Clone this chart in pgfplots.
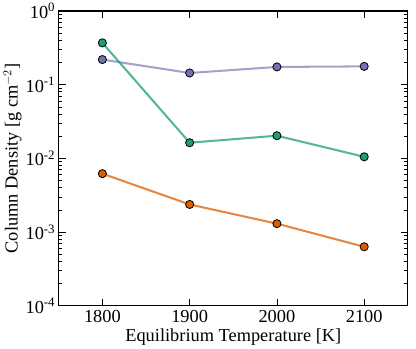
\documentclass[border=0pt]{standalone}
\usepackage{fontspec}
\setmainfont{Liberation Serif}
\usepackage{pgfplots}
\pgfplotsset{compat=1.18}
\definecolor{cgreen}{HTML}{1B9E77}
\definecolor{corange}{HTML}{D95F02}
\definecolor{cpurple}{HTML}{7570B3}
\begin{document}
\begin{tikzpicture}
\begin{axis}[
    scale only axis,
    width=341bp, height=288bp,
    xmin=1750, xmax=2150,
    ymode=log, ymin=1e-4, ymax=1,
    xtick={1800,1900,2000,2100},
    xticklabels={1800,1900,2000,2100},
    ytick={1e-4,1e-3,1e-2,1e-1,1},
    yticklabels={10\textsuperscript{-4},10\textsuperscript{-3},10\textsuperscript{-2},10\textsuperscript{-1},10\textsuperscript{0}},
    tick align=inside,
    xtick pos=both, ytick pos=both,
    major tick length=7bp, minor tick length=3.5bp,
    tick style={black, line width=0.6pt},
    axis line style={line width=1.1pt},
    tick label style={font=\fontsize{18}{20}\selectfont},
    label style={font=\fontsize{18}{20}\selectfont},
    xticklabel style={yshift=-1bp},
    xlabel={Equilibrium Temperature [K]},
    ylabel={Column Density [g cm$^{-2}$]},
    xlabel style={yshift=1bp},
    ylabel style={yshift=-3bp},
    every axis plot/.append style={line width=2pt, mark=*, mark size=4pt},
]
\addplot[cpurple, draw opacity=0.65,
  mark options={draw=black, line width=0.8pt, fill=cpurple, draw opacity=1, fill opacity=1}] coordinates {
  (1800,0.219)(1900,0.144)(2000,0.174)(2100,0.177)};
\addplot[cgreen, draw opacity=0.75,
  mark options={draw=black, line width=0.8pt, fill=cgreen, draw opacity=1, fill opacity=1}] coordinates {
  (1800,0.369)(1900,0.0163)(2000,0.0203)(2100,0.0105)};
\addplot[corange, draw opacity=0.75,
  mark options={draw=black, line width=0.8pt, fill=corange, draw opacity=1, fill opacity=1}] coordinates {
  (1800,0.0062)(1900,0.00237)(2000,0.0013)(2100,0.000632)};
\end{axis}
\path ([xshift=8bp]current axis.east);
\end{tikzpicture}
\end{document}
